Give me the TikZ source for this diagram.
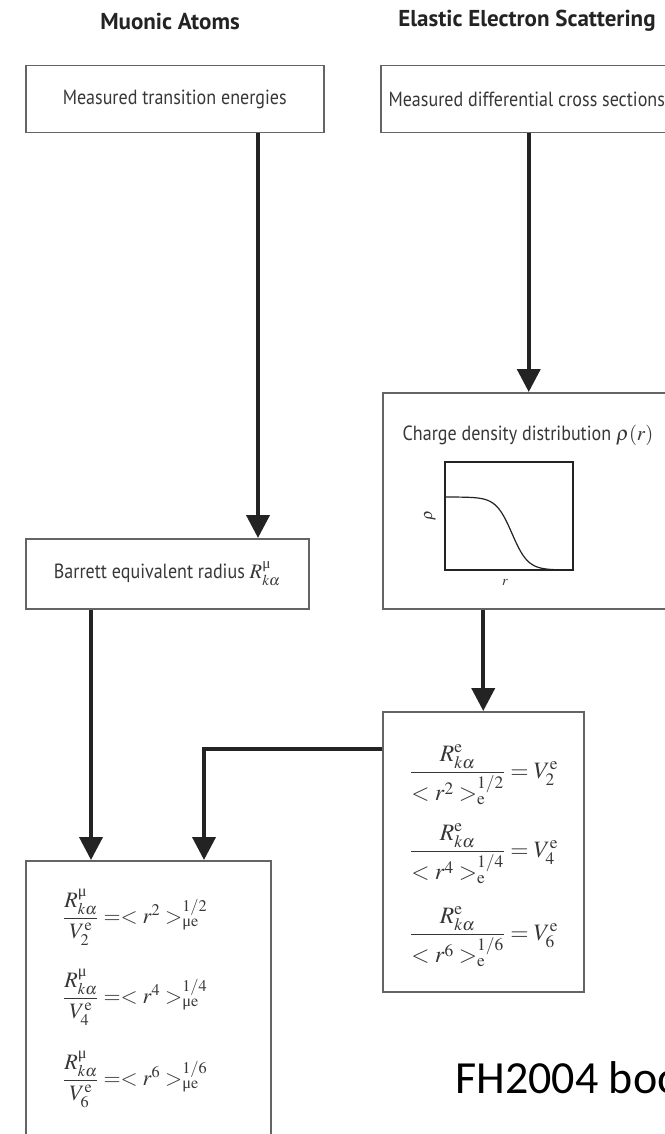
\documentclass[tikz,border=0pt]{standalone}
\usepackage{amsmath}
\usepackage{mathptmx}
\usepackage[no-math]{fontspec}
\setmainfont{PT Sans}[FakeStretch=0.88]
\newfontfamily\headfont{PT Sans}
\newfontfamily\tmsfont{Liberation Serif}
\newfontfamily\notefont{Carlito}
\usepackage{tikz}
\usetikzlibrary{arrows.meta, positioning, calc}
\definecolor{boxgray}  {RGB}{100, 100, 100}
\definecolor{linedark} {RGB}{ 35,  35,  35}
\definecolor{textgray} {RGB}{ 55,  55,  55}
\newcommand{\umu}{\text{\tmsfont μ}}
\tikzset{
	title/.style={font=\headfont\bfseries\fontsize{23}{26}\selectfont, text=linedark},
	box/.style={draw=boxgray, line width=1.5pt, text=textgray, font=\fontsize{20.5}{24}\selectfont, inner sep=0pt},
	conn/.style={line width=4pt, draw=linedark, -{Triangle[length=23pt,width=23pt]}},
	eq/.style={font=\fontsize{22}{26}\selectfont, text=textgray, inner sep=0pt},
	plotline/.style={line width=1.2pt, draw=linedark}
}

\begin{document}
\begin{tikzpicture}[x=1pt, y=-1pt]
	\useasboundingbox (0,0) rectangle (664,1134);
	% headings
	\node[title] (muTitle) at (170,21) {Muonic Atoms};
	\node[title] (elTitle) at (527,21) {Elastic Electron Scattering};
	% boxes
	\node[box, anchor=north west, minimum width=298pt, minimum height=67pt] (trans) at (25,65) {Measured transition energies};
	\node[box, anchor=north west, minimum width=292pt, minimum height=67pt] (xsec) at (380,65) {Measured differential cross sections};
	\node[box, anchor=north west, minimum width=292pt, minimum height=216pt] (charge) at (382,392) {};
	\node[box, anchor=north west, minimum width=283pt, minimum height=70pt] (barrett) at (25,538) {Barrett equivalent radius $R^{\umu}_{k\alpha}$};
	\node[box, anchor=north west, minimum width=201pt, minimum height=280pt] (ratioE) at (382,711) {};
	\node[box, anchor=north west, minimum width=245pt, minimum height=300pt] (ratioMu) at (25,860) {};
	% charge density sketch
	\node[text=textgray, font=\fontsize{20.5}{24}\selectfont] (rhoText) at (528,435) {Charge density distribution $\rho(r)$};
	\draw[plotline] (445,462) rectangle (573,570);
	\draw[plotline] plot[domain=445:573, samples=60] (\x,{497+73/(1+exp(-(\x-512)/8))});
	\node[rotate=90, text=textgray, font=\fontsize{16}{18}\selectfont] (rhoAxis) at (430,515) {$\rho$};
	\node[text=textgray, font=\fontsize{14}{16}\selectfont] (rAxis) at (505,582) {$r$};
	% ratios
	\foreach \n/\yb in {2/772,4/851,6/934}
		\node[eq, font=\fontsize{23.5}{27}\selectfont, anchor=base west] (ratioE\n) at (410,\yb+6) {$\dfrac{R^{\mathrm{e}}_{k\alpha}}{<r^{\n}>^{1/\n}_{\mathrm{e}}} = V^{\mathrm{e}}_{\n}$};
	\foreach \n/\yb in {2/918,4/998,6/1080}
		\node[eq, anchor=base west] (ratioMu\n) at (63,\yb+5.5) {$\dfrac{R^{\umu}_{k\alpha}}{V^{\mathrm{e}}_{\n}} \mathrel{=}\mathrel{<} r^{\n} >^{1/\n}_{\umu\mathrm{e}}$};
	% connectors
	\coordinate (tx) at (258,0);
	\coordinate (bx) at (91,0);
	\coordinate (mx) at (204,0);
	\draw[conn] (trans.south -| tx) -- (barrett.north -| tx);
	\draw[conn] (xsec.south -| charge.north) -- (charge.north);
	\draw[conn] (charge.south -| ratioE.north) -- (ratioE.north);
	\draw[conn] (barrett.south -| bx) -- (ratioMu.north -| bx);
	\draw[conn] ([yshift=-38pt]ratioE.north west) -| (ratioMu.north -| mx);
	\node[font=\notefont\fontsize{46}{50}\selectfont, anchor=base west] (note) at (452,1093) {FH2004 book};
\end{tikzpicture}
\end{document}
